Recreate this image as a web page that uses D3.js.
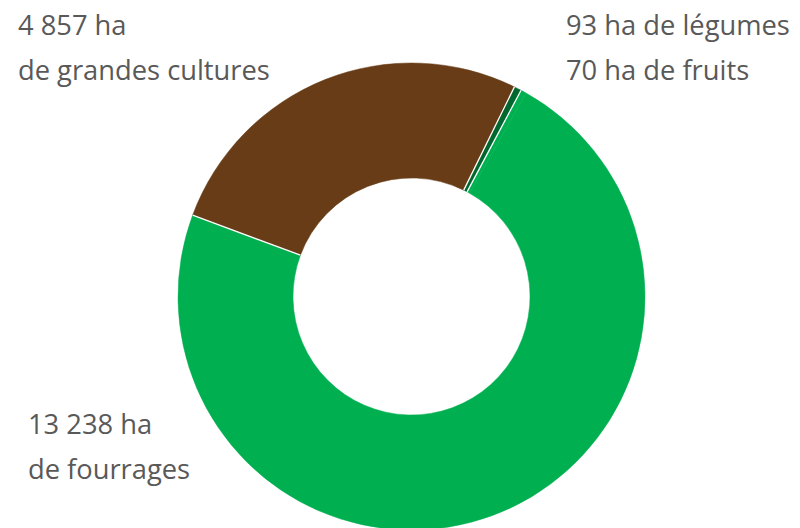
<!DOCTYPE html>
<html>
  <head>
    <meta charset="UTF-8">
    <title>Surfaces agricoles</title>
    <script src="https://d3js.org/d3.v7.min.js"></script>
    <style>
      body { margin: 0; background: #fff; }
      .label text {
        font-family: "Open Sans", sans-serif;
        font-size: 27.3px;
        fill: #595959;
      }
    </style>
  </head>
  <body>
    <div id="chart"></div>

    <script>
      // Slice data, in clockwise order
      const categories = ["légumes", "fruits", "fourrages", "grandes cultures"];
      const hectares = [93, 70, 13238, 4857];
      const colors = ["#00672E", "#00B050", "#00B050", "#673C17"];

      // Label texts (two lines each)
      const labelLines = [
        ["93 ha de légumes", "70 ha de fruits"],
        ["4 857 ha", "de grandes cultures"],
        ["13 238 ha", "de fourrages"]
      ];

      const width = 800, height = 528;
      const cx = 411.5, cy = 296.5;
      const outerR = 233.5, innerR = 118.5;
      const startDeg = 26.15;

      const svg = d3.select("#chart")
        .append("svg")
        .attr("width", width)
        .attr("height", height);

      const g = svg.append("g")
        .attr("transform", `translate(${cx},${cy})`);

      const pie = d3.pie()
        .sort(null)
        .value(d => d)
        .startAngle(startDeg * Math.PI / 180)
        .endAngle((startDeg + 360) * Math.PI / 180);

      const arcs = pie(hectares);

      const arc = d3.arc()
        .innerRadius(innerR)
        .outerRadius(outerR);

      // slices
      g.selectAll(".slice")
        .data(arcs)
        .enter()
        .append("path")
        .attr("class", "slice")
        .attr("d", arc)
        .attr("fill", (d, i) => colors[i])
        .attr("stroke", (d, i) => colors[i])
        .attr("stroke-width", 0.5);

      // white separators where the colour changes
      const seps = arcs.filter((d, i) => colors[i] !== colors[(i + arcs.length - 1) % arcs.length]);
      g.selectAll(".sep")
        .data(seps)
        .enter()
        .append("line")
        .attr("class", "sep")
        .attr("x1", d => innerR * Math.sin(d.startAngle))
        .attr("y1", d => -innerR * Math.cos(d.startAngle))
        .attr("x2", d => outerR * Math.sin(d.startAngle))
        .attr("y2", d => -outerR * Math.cos(d.startAngle))
        .attr("stroke", "#fff")
        .attr("stroke-width", 1.3);

      // labels
      const labelPos = [
        { x: 566, y: 35 },
        { x: 18, y: 35 },
        { x: 28, y: 434 }
      ];
      const lineGap = 45;

      const labels = svg.selectAll(".label")
        .data(labelLines)
        .enter()
        .append("g")
        .attr("class", "label")
        .attr("transform", (d, i) => `translate(${labelPos[i].x},${labelPos[i].y})`);

      labels.selectAll("text")
        .data(d => d)
        .enter()
        .append("text")
        .attr("y", (d, j) => j * lineGap)
        .text(d => d);
    </script>
  </body>
</html>
